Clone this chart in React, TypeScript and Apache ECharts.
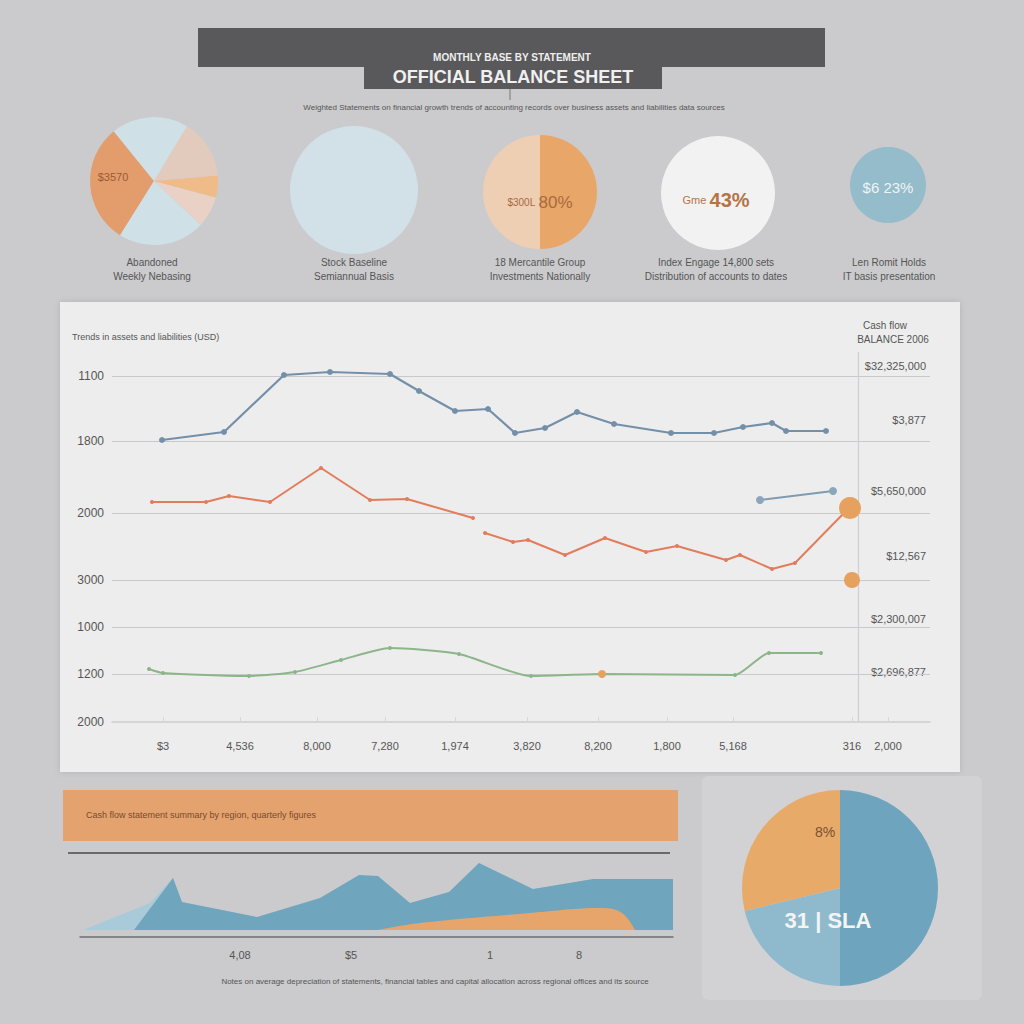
import React, { useEffect, useRef } from "react";
import * as echarts from "echarts";

// ---------- data ----------
const topPieAValues = [109, 79, 28, 20, 54, 70];
const topPieAColors = ["#e39d6c", "#cfe0e7", "#e9d1c6", "#efbb88", "#e2cbbd", "#cfe0e7"];
const topPieCValues = [50, 50];
const topPieCColors = ["#e8a668", "#eecfb3"];
const bottomPieValues = [50, 21.25, 28.75];
const bottomPieColors = ["#6ea4bd", "#8fbace", "#e8aa68"];

const circleLabels = [
  ["Abandoned", "Weekly Nebasing"],
  ["Stock Baseline", "Semiannual Basis"],
  ["18 Mercantile Group", "Investments Nationally"],
  ["Index Engage 14,800 sets", "Distribution of accounts to dates"],
  ["Len Romit Holds", "IT basis presentation"],
];

const blueSeries = [
  [69, 282], [131, 290], [191, 347], [237, 350], [297, 348], [326, 331], [362, 311],
  [395, 313], [422, 289], [452, 294], [484, 310], [521, 298], [578, 289], [621, 289],
  [650, 295], [679, 299], [693, 291], [733, 291],
];
const blueShort = [[667, 222], [740, 231]];
const redSeries: any[] = [
  [59, 220], [113, 220], [136, 226], [177, 220], [228, 254], [277, 222], [314, 223],
  [380, 204], ["-", "-"], [392, 189], [420, 180], [435, 182], [472, 167], [512, 184],
  [553, 170], [584, 176], [633, 162], [647, 167], [679, 153], [702, 159], [751, 209],
];
const greenSeries = [
  [56, 53], [70, 49], [156, 46], [202, 50], [248, 62], [297, 74], [366, 68],
  [438, 46], [509, 48], [642, 47], [676, 69], [728, 69],
];
const orangeDots = [[757, 214, 22], [759, 142, 16], [509, 48, 8]];

const gridValues = [346, 281, 209, 142, 95, 48, 0];
const gridLabels = ["1100", "1800", "2000", "3000", "1000", "1200", "2000"];
const rightValues = [356, 302, 231, 166, 103, 50];
const rightLabels = ["$32,325,000", "$3,877", "$5,650,000", "$12,567", "$2,300,007", "$2,696,877"];
const xTickValues = [70, 147, 224, 292, 362, 434, 505, 574, 640, 759, 795];
const xTickLabels = ["$3", "4,536", "8,000", "7,280", "1,974", "3,820", "8,200", "1,800", "5,168", "316", "2,000"];
const verticalMarker = 765;

const areaLight = [[3, 0], [40, 15], [70, 27], [93, 52], [102, 28], [120, 0]];
const areaDark = [
  [54, 0], [93, 52], [102, 28], [177, 13], [240, 32], [279, 55], [298, 54], [330, 27],
  [369, 38], [399, 67], [453, 41], [513, 51], [593, 51],
];
const areaOrange = [[298, 0], [340, 7], [450, 17], [521, 22], [542, 17], [555, 0]];
const areaTickValues = [160, 271, 410, 499];
const areaTickLabels = ["4,08", "$5", "1", "8"];

const FONT = "'Liberation Sans Narrow', 'Liberation Sans', 'DejaVu Sans Condensed', sans-serif";

function mapLabel(values: number[], labels: string[]) {
  return (v: number) => {
    const i = values.findIndex((x) => Math.abs(x - v) < 0.5);
    return i >= 0 ? labels[i] : "";
  };
}

export default function App() {
  const ref = useRef<HTMLDivElement>(null);
  useEffect(() => {
    if (!ref.current) return;
    const chart = echarts.init(ref.current, null, { renderer: "svg" });

    const graphic: any[] = [
      { type: "rect", shape: { x: 60, y: 302, width: 900, height: 470 }, style: { fill: "#ededed", shadowBlur: 6, shadowColor: "rgba(0,0,0,0.12)" }, z: -5 },
      { type: "rect", shape: { x: 702, y: 776, width: 280, height: 224, r: 6 }, style: { fill: "#d2d2d4" }, z: -5 },
      { type: "rect", shape: { x: 198, y: 28, width: 627, height: 39 }, style: { fill: "#59595b" } },
      { type: "rect", shape: { x: 364, y: 66, width: 298, height: 23 }, style: { fill: "#59595b" } },
      { type: "line", shape: { x1: 510, y1: 89, x2: 510, y2: 100 }, style: { stroke: "#777", lineWidth: 1 } },
      { type: "text", x: 512, y: 57, style: { text: "MONTHLY BASE BY STATEMENT", fill: "#eeeeee", font: `bold 10px ${FONT}`, align: "center", verticalAlign: "middle" } },
      { type: "text", x: 513, y: 77, style: { text: "OFFICIAL BALANCE SHEET", fill: "#f0f0f0", font: `bold 18px ${FONT}`, align: "center", verticalAlign: "middle" } },
      { type: "text", x: 514, y: 107, style: { text: "Weighted Statements on financial growth trends of accounting records over business assets and liabilities data sources", fill: "#555", font: `8px ${FONT}`, align: "center", verticalAlign: "middle" } },
      { type: "text", x: 113, y: 177, z: 10, style: { text: "$3570", fill: "#9a5a35", font: `11px ${FONT}`, align: "center", verticalAlign: "middle" } },
      { type: "text", x: 540, y: 202, z: 10, style: { text: "{s|$300L} {b|80%}", rich: { s: { fill: "#a86a40", font: `10px ${FONT}` }, b: { fill: "#a86a40", font: `17px ${FONT}` } }, align: "center", verticalAlign: "middle" } },
      { type: "text", x: 716, y: 200, z: 10, style: { text: "{s|Gme} {b|43%}", rich: { s: { fill: "#b47446", font: `11px ${FONT}` }, b: { fill: "#b47446", font: `bold 20px ${FONT}` } }, align: "center", verticalAlign: "middle" } },
      { type: "text", x: 888, y: 187, z: 10, style: { text: "$6 23%", fill: "#eef4f6", font: `15px ${FONT}`, align: "center", verticalAlign: "middle" } },
      { type: "text", x: 72, y: 337, style: { text: "Trends in assets and liabilities (USD)", fill: "#555", font: `9px ${FONT}`, verticalAlign: "middle" } },
      { type: "text", x: 885, y: 325, style: { text: "Cash flow", fill: "#555", font: `10px ${FONT}`, align: "center", verticalAlign: "middle" } },
      { type: "text", x: 893, y: 339, style: { text: "BALANCE 2006", fill: "#555", font: `10px ${FONT}`, align: "center", verticalAlign: "middle" } },
      { type: "rect", shape: { x: 63, y: 790, width: 615, height: 51 }, style: { fill: "#e4a26f" } },
      { type: "text", x: 86, y: 815, style: { text: "Cash flow statement summary by region, quarterly figures", fill: "#7a4a2a", font: `9px ${FONT}`, verticalAlign: "middle" } },
      { type: "line", shape: { x1: 68, y1: 853, x2: 670, y2: 853 }, style: { stroke: "#6a6a6a", lineWidth: 2 } },
      { type: "text", x: 435, y: 981, style: { text: "Notes on average depreciation of statements, financial tables and capital allocation across regional offices and its source", fill: "#555", font: `8px ${FONT}`, align: "center", verticalAlign: "middle" } },
      { type: "text", x: 825, y: 832, z: 10, style: { text: "8%", fill: "#7a5030", font: `14px ${FONT}`, align: "center", verticalAlign: "middle" } },
      { type: "text", x: 828, y: 920, z: 10, style: { text: "31 | SLA", fill: "#f4f4f4", font: `bold 22px ${FONT}`, align: "center", verticalAlign: "middle" } },
    ];
    const cx = [152, 354, 540, 716, 889];
    circleLabels.forEach((lines, i) => {
      graphic.push({ type: "text", x: cx[i], y: 262, style: { text: lines[0], fill: "#555", font: `10px ${FONT}`, align: "center", verticalAlign: "middle" } });
      graphic.push({ type: "text", x: cx[i], y: 276, style: { text: lines[1], fill: "#555", font: `10px ${FONT}`, align: "center", verticalAlign: "middle" } });
    });

    const pie = (data: number[], colors: string[], center: number[], r: number, startAngle = 90, clockwise = true) => ({
      type: "pie", silent: true, center, radius: r, startAngle, clockwise,
      label: { show: false }, labelLine: { show: false }, itemStyle: { borderWidth: 0 },
      data: data.map((v, i) => ({ value: v, itemStyle: { color: colors[i] } })),
    });

    const option: any = {
      animation: false,
      backgroundColor: "#cbcbcd",
      textStyle: { fontFamily: FONT },
      graphic,
      grid: [
        { left: 112, top: 352, width: 818, height: 370 },
        { left: 80, top: 850, width: 593, height: 80 },
      ],
      xAxis: [
        {
          gridIndex: 0, type: "value", min: 19, max: 837,
          axisLine: { show: true, lineStyle: { color: "#cdcdd0", width: 1.5 } },
          axisTick: { show: true, customValues: xTickValues, length: 5, inside: true, lineStyle: { color: "#d6d6d8" } },
          axisLabel: { customValues: xTickValues, formatter: mapLabel(xTickValues, xTickLabels), color: "#555", fontSize: 11, margin: 18 },
          splitLine: { show: false },
        },
        {
          gridIndex: 1, type: "value", min: 0, max: 593,
          axisLine: { show: true, onZero: false, lineStyle: { color: "#6f6f72", width: 1.5 } },
          offset: 7,
          axisTick: { show: false },
          axisLabel: { customValues: areaTickValues, formatter: mapLabel(areaTickValues, areaTickLabels), color: "#555", fontSize: 11, margin: 12 },
          splitLine: { show: false },
        },
      ],
      yAxis: [
        {
          gridIndex: 0, type: "value", min: 0, max: 370,
          axisLine: { show: false }, axisTick: { show: false }, splitLine: { show: false },
          axisLabel: { customValues: gridValues, formatter: mapLabel(gridValues, gridLabels), color: "#555", fontSize: 12, margin: 8 },
        },
        {
          gridIndex: 0, type: "value", min: 0, max: 370, position: "right",
          axisLine: { show: false }, axisTick: { show: false }, splitLine: { show: false },
          axisLabel: { inside: true, customValues: rightValues, formatter: mapLabel(rightValues, rightLabels), color: "#555", fontSize: 11, margin: 4 },
        },
        { gridIndex: 1, type: "value", min: 0, max: 80, show: false },
      ],
      series: [
        {
          type: "line", xAxisIndex: 0, yAxisIndex: 0, data: blueShort,
          lineStyle: { color: "#7f9bb1", width: 2 }, itemStyle: { color: "#8aa6bb" },
          symbol: "circle", symbolSize: 8, silent: true, z: 2,
          markLine: {
            silent: true, symbol: "none", label: { show: false }, z: 1,
            data: [
              ...gridValues.filter((v) => v > 0).map((v) => ({ yAxis: v, lineStyle: { color: "#c9c9cd", width: 1.2, type: "solid" } })),
              { xAxis: verticalMarker, lineStyle: { color: "#cfcfd2", width: 1.2, type: "solid" } },
            ],
          },
        },
        {
          type: "line", xAxisIndex: 0, yAxisIndex: 0, data: blueSeries,
          lineStyle: { color: "#7490a8", width: 2.2 }, itemStyle: { color: "#7490a8" },
          symbol: "circle", symbolSize: 6, silent: true, z: 3,
        },
        {
          type: "line", xAxisIndex: 0, yAxisIndex: 0, data: redSeries, connectNulls: false,
          lineStyle: { color: "#e27c5c", width: 2 }, itemStyle: { color: "#e27c5c" },
          symbol: "circle", symbolSize: 4, silent: true, z: 3,
        },
        {
          type: "line", xAxisIndex: 0, yAxisIndex: 0, data: greenSeries, smooth: 0.2,
          lineStyle: { color: "#8db58a", width: 2 }, itemStyle: { color: "#8db58a" },
          symbol: "circle", symbolSize: 4, silent: true, z: 3,
        },
        {
          type: "scatter", xAxisIndex: 0, yAxisIndex: 0, data: orangeDots,
          symbolSize: (d: number[]) => d[2], itemStyle: { color: "#e6a15f", opacity: 1 }, silent: true, z: 4,
        },
        {
          type: "line", xAxisIndex: 1, yAxisIndex: 2, data: areaLight, symbol: "none", silent: true,
          lineStyle: { width: 0 }, areaStyle: { color: "#a9cbd9", opacity: 1 }, z: 2,
        },
        {
          type: "line", xAxisIndex: 1, yAxisIndex: 2, data: areaDark, symbol: "none", silent: true,
          lineStyle: { width: 0 }, areaStyle: { color: "#6fa5bd", opacity: 1 }, z: 3,
        },
        {
          type: "line", xAxisIndex: 1, yAxisIndex: 2, data: areaOrange, symbol: "none", silent: true, smooth: 0.4,
          lineStyle: { width: 0 }, areaStyle: { color: "#e8a56b", opacity: 1 }, z: 4,
        },
        pie(topPieAValues, topPieAColors, [154, 181], 64, 129, false),
        pie([1], ["#d2e1e8"], [354, 190], 64),
        pie(topPieCValues, topPieCColors, [540, 192], 57),
        pie([1], ["#f2f2f2"], [718, 193], 57),
        pie([1], ["#94bccb"], [888, 185], 38),
        pie(bottomPieValues, bottomPieColors, [840, 888], 98),
      ],
    };
    chart.setOption(option);
    return () => chart.dispose();
  }, []);
  return <div ref={ref} style={{ position: "absolute", left: 0, top: 0, width: 1024, height: 1024 }} />;
}
